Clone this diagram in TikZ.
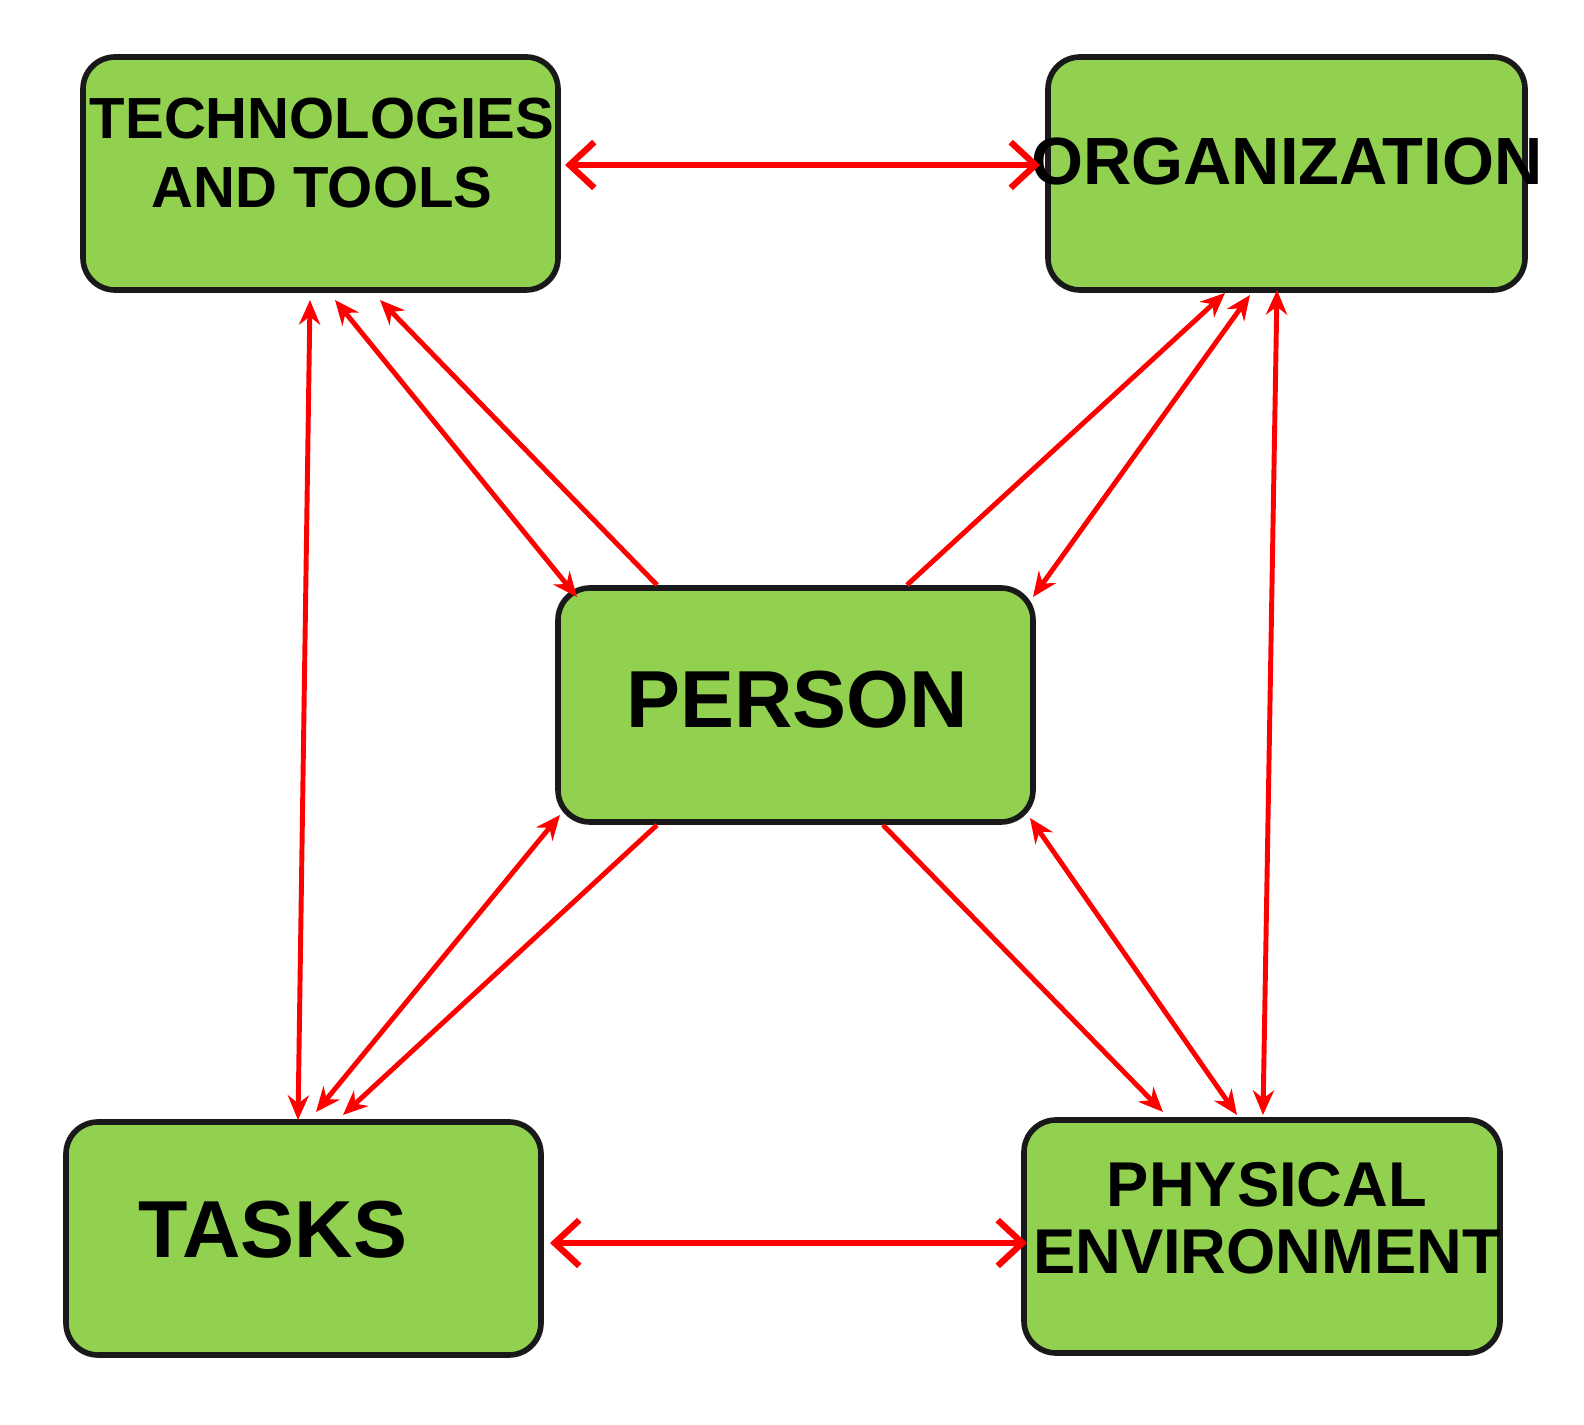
\documentclass[tikz,border=0pt]{standalone}
\usepackage{fontspec}
\setmainfont{Liberation Sans}
\usetikzlibrary{arrows.meta}
\begin{document}
\begin{tikzpicture}[x=0.01cm,y=-0.01cm,
  box/.style={draw=black!90,line width=1.6pt,fill=boxgreen,rounded corners=0.32cm},
  lbl/.style={font=\bfseries,align=center,inner sep=0pt},
  rl/.style={draw=red,line width=1.4pt},
  both/.style={rl,{Stealth[length=7pt,width=6pt]}-{Stealth[length=7pt,width=6pt]}},
  one/.style={rl,-{Stealth[length=7pt,width=6pt]}},
  openboth/.style={rl,line width=1.8pt,{Straight Barb[length=7pt,width=13pt]}-{Straight Barb[length=7pt,width=13pt]}}]
\definecolor{boxgreen}{HTML}{92D050}
\useasboundingbox (0,0) rectangle (1584,1425);
\draw[box] (83,57) rectangle (558,290);
\draw[box] (1048,57) rectangle (1525,290);
\draw[box] (558,588) rectangle (1033,822);
\draw[box] (66,1122) rectangle (541,1355);
\draw[box] (1024,1120) rectangle (1500,1353);
\node[lbl,font=\bfseries\fontsize{16.5}{19.5}\selectfont] (tech) at (322,153) {TECHNOLOGIES\\AND TOOLS};
\node[lbl,font=\bfseries\fontsize{19}{22}\selectfont] (org) at (1287,162) {ORGANIZATION};
\node[lbl,font=\bfseries\fontsize{23}{26}\selectfont] (per) at (797,700) {PERSON};
\node[lbl,font=\bfseries\fontsize{23}{26}\selectfont] (tas) at (273,1230) {TASKS};
\node[lbl,font=\bfseries\fontsize{18}{19}\selectfont] (phy) at (1267,1218) {PHYSICAL\\ENVIRONMENT};
\coordinate (a1) at (565,165); \coordinate (a2) at (1040,165);
\coordinate (b1) at (310,300); \coordinate (b2) at (298,1120);
\coordinate (c1) at (335,300); \coordinate (c2) at (577,597);
\coordinate (d1) at (380,300); \coordinate (d2) at (657,585);
\coordinate (e1) at (1225,293); \coordinate (e2) at (907,585);
\coordinate (f1) at (1250,295); \coordinate (f2) at (1033,597);
\coordinate (g1) at (1277,290); \coordinate (g2) at (1263,1115);
\coordinate (h1) at (560,815); \coordinate (h2) at (316,1112);
\coordinate (i1) at (657,825); \coordinate (i2) at (343,1115);
\coordinate (j1) at (883,825); \coordinate (j2) at (1163,1112);
\coordinate (k1) at (1030,818); \coordinate (k2) at (1237,1115);
\coordinate (l1) at (550,1243); \coordinate (l2) at (1027,1243);
\draw[openboth] (a1) -- (a2);
\draw[both] (b1) -- (b2);
\draw[both] (c1) -- (c2);
\draw[one] (d2) -- (d1);
\draw[one] (e2) -- (e1);
\draw[both] (f1) -- (f2);
\draw[both] (g1) -- (g2);
\draw[both] (h1) -- (h2);
\draw[one] (i1) -- (i2);
\draw[one] (j1) -- (j2);
\draw[both] (k1) -- (k2);
\draw[openboth] (l1) -- (l2);
\end{tikzpicture}
\end{document}
